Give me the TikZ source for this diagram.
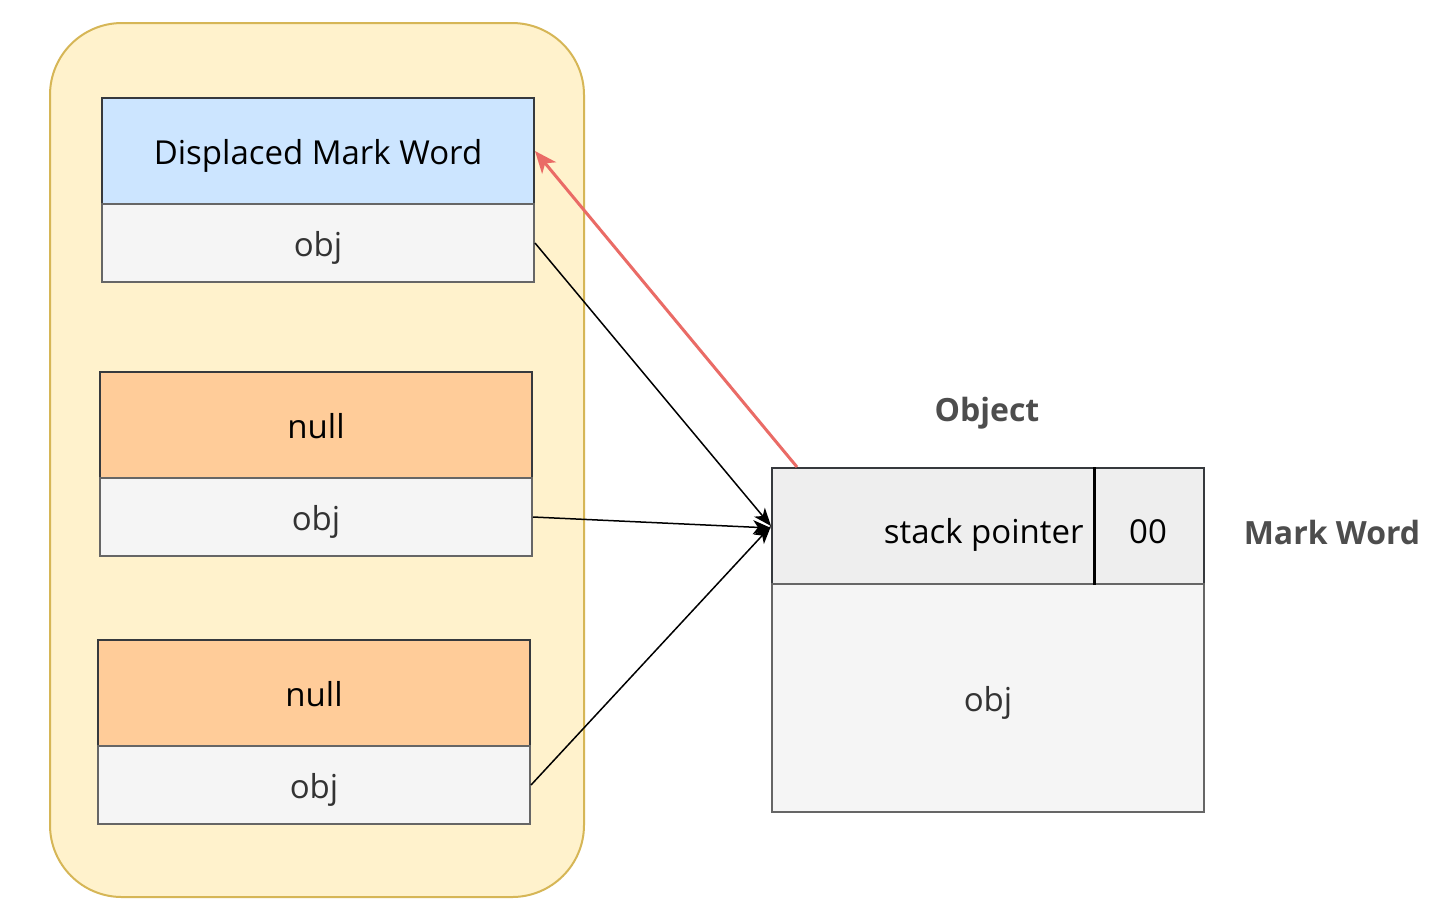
\documentclass[tikz,border=0pt]{standalone}
\usepackage{fontspec}
\setmainfont{Open Sans}
\usetikzlibrary{arrows.meta}
\definecolor{outerfill}{HTML}{FFF2CC}
\definecolor{outerdraw}{HTML}{D6B656}
\definecolor{bluefill}{HTML}{CCE5FF}
\definecolor{orangefill}{HTML}{FFCC99}
\definecolor{grayfill}{HTML}{F5F5F5}
\definecolor{headfill}{HTML}{EEEEEE}
\definecolor{darkline}{HTML}{36393D}
\definecolor{midline}{HTML}{666666}
\definecolor{objtext}{HTML}{333333}
\definecolor{labeltext}{HTML}{4D4D4D}
\definecolor{redline}{HTML}{EA6B66}
\begin{document}
\begin{tikzpicture}[x=0.5pt,y=-0.5pt,
  txt/.style={font=\fontsize{16.5}{19}\selectfont,text height=15pt,text depth=1.5pt},
  cell/.style={txt,draw=darkline,line width=1pt,minimum width=216pt,inner sep=0pt,anchor=north west},
  topcell/.style={cell,minimum height=53pt},
  objcell/.style={cell,draw=midline,fill=grayfill,minimum height=39pt,text=objtext},
  lbl/.style={font=\fontsize{16}{19}\selectfont\bfseries,text=labeltext,inner sep=0pt},
  conn/.style={-{Stealth[length=9pt,width=7pt,inset=2.5pt]},line width=0.75pt,black},
  redconn/.style={-{Stealth[length=11pt,width=9pt,inset=3pt]},line width=1.5pt,redline}]
\useasboundingbox (0,0) rectangle (1438,918);
\fill[white] (0,0) rectangle (1438,918);
\draw[fill=outerfill,draw=outerdraw,line width=1pt,rounded corners=36pt] (50,23) rectangle (584,897);
% left stack frames
\node[topcell,fill=bluefill] (dmw) at (101,97) {Displaced Mark Word};
\node[objcell] (obja) at (101,203) {obj};
\node[topcell,fill=orangefill] (nullb) at (99,371) {null};
\node[objcell] (objb) at (99,477) {obj};
\node[topcell,fill=orangefill] (nullc) at (97,639) {null};
\node[objcell] (objc) at (97,745) {obj};
% object
\node[cell,fill=headfill,minimum height=58pt] (head) at (771,467) {};
\node[cell,draw=midline,fill=grayfill,minimum height=114pt,text=objtext] (objbig) at (771,583) {obj};
\draw[black,line width=1.5pt] (1094,467) -- (1094,585);
\node[txt,anchor=east,inner sep=0pt] (sp) at (1084,530) {stack pointer};
\node[txt,inner sep=0pt] (zz) at (1148,530) {00};
\node[lbl] (objlbl) at (987,413) {Object};
\node[lbl] (mwlbl) at (1332,532) {Mark Word};
% connectors
\coordinate (redstart) at (797,467);
\draw[conn] (obja.east) -- (head.west);
\draw[conn] (objb.east) -- ([yshift=-1pt]head.west);
\draw[conn] (objc.east) -- (head.west);
\draw[redconn] (redstart) -- (dmw.east);
\end{tikzpicture}
\end{document}
